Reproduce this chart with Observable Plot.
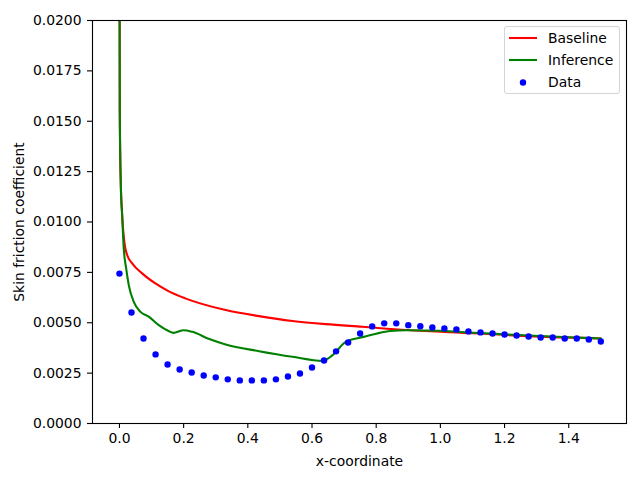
<!DOCTYPE html>
<html>
<head>
<meta charset="utf-8">
<script src="https://cdn.jsdelivr.net/npm/d3@7"></script>
<script src="https://cdn.jsdelivr.net/npm/@observablehq/plot@0.6"></script>
<style>
  html, body { margin: 0; padding: 0; background: #fff; }
  #wrap { position: relative; width: 640px; height: 480px; font-family: "DejaVu Sans", sans-serif; }
  #legend { position: absolute; left: 504px; top: 26px; width: 114px; height: 66px;
    border: 1px solid #d5d5d5; border-radius: 3px; background: rgba(255,255,255,0.8);
    font-size: 13.9px; color: #000; }
  .row { position: absolute; left: 0; height: 16px; display: flex; align-items: center; }
  .row svg { margin-left: 3px; }
  .row span { position: absolute; left: 43px; white-space: nowrap; line-height: 16px; }
</style>
</head>
<body>
<div id="wrap"></div>
<script>
// Baseline curve
const baseX = [0.000, 0.001, 0.004, 0.0084, 0.0165, 0.024, 0.0396, 0.0707, 0.112, 0.1525, 0.205, 0.331, 0.435, 0.539, 0.643, 0.757, 0.896, 1.104, 1.311, 1.500];
const baseY = [0.0250, 0.0155, 0.0120, 0.01035, 0.00886, 0.00836, 0.00795, 0.00745, 0.00695, 0.00657, 0.00621, 0.00563, 0.00533, 0.00509, 0.00493, 0.00480, 0.00464, 0.00448, 0.00431, 0.00422];

// Inference curve
const infX = [0.000, 0.001, 0.004, 0.0084, 0.0134, 0.0209, 0.029, 0.0446, 0.0654, 0.0913, 0.1225, 0.153, 0.168, 0.200, 0.227, 0.280, 0.331, 0.435, 0.539, 0.633, 0.664, 0.705, 0.730, 0.761, 0.803, 0.844, 0.896, 1.000, 1.104, 1.208, 1.312, 1.416, 1.500];
const infY = [0.0250, 0.0155, 0.0120, 0.01035, 0.00869, 0.0077, 0.00687, 0.00604, 0.00554, 0.0053, 0.00488, 0.00459, 0.0045, 0.00463, 0.00455, 0.00419, 0.00392, 0.00359, 0.00331, 0.00311, 0.00339, 0.00405, 0.00419, 0.0043, 0.00447, 0.00459, 0.00463, 0.0046, 0.0045, 0.00442, 0.00434, 0.00427, 0.00422];

// Measured data
const dataX = [0.0, 0.0375, 0.075, 0.1125, 0.15, 0.1875, 0.225, 0.2625, 0.3, 0.3375, 0.375, 0.4125, 0.45, 0.4875, 0.525, 0.5625, 0.6, 0.6375, 0.675, 0.7125, 0.75, 0.7875, 0.825, 0.8625, 0.9, 0.9375, 0.975, 1.0125, 1.05, 1.0875, 1.125, 1.1625, 1.2, 1.2375, 1.275, 1.3125, 1.35, 1.3875, 1.425, 1.4625, 1.5];
const dataY = [0.00744, 0.00551, 0.00422, 0.00343, 0.00293, 0.00268, 0.00253, 0.00238, 0.00229, 0.00219, 0.00214, 0.00214, 0.00214, 0.00219, 0.00233, 0.00248, 0.00278, 0.00313, 0.00358, 0.00402, 0.00447, 0.00482, 0.00497, 0.00497, 0.00488, 0.00483, 0.00477, 0.00472, 0.00467, 0.00457, 0.00452, 0.00447, 0.00442, 0.00437, 0.00432, 0.00427, 0.00427, 0.00422, 0.00422, 0.00417, 0.00407];

const xTicks = [0.0, 0.2, 0.4, 0.6, 0.8, 1.0, 1.2, 1.4];
const yTicks = [0.0, 0.0025, 0.005, 0.0075, 0.01, 0.0125, 0.015, 0.0175, 0.02];

const seriesNames = ["Baseline", "Inference", "Data"];
const seriesColors = ["#ff0000", "#008000", "#0000ff"];

const baseline = baseX.map((x, i) => ({x, y: baseY[i]}));
const inference = infX.map((x, i) => ({x, y: infY[i]}));
const data = dataX.map((x, i) => ({x, y: dataY[i]}));

const chart = Plot.plot({
  width: 640,
  height: 480,
  marginLeft: 92,
  marginRight: 14,
  marginTop: 20,
  marginBottom: 57,
  style: {fontFamily: "DejaVu Sans, sans-serif", fontSize: "13.9px", color: "#000", background: "#fff"},
  x: {domain: [-0.084, 1.58]},
  y: {domain: [0, 0.02]},
  marks: [
    Plot.line(baseline, {x: "x", y: "y", stroke: seriesColors[0], strokeWidth: 2.1, curve: "monotone-x", clip: true}),
    Plot.line(inference, {x: "x", y: "y", stroke: seriesColors[1], strokeWidth: 2.1, curve: "monotone-x", clip: true}),
    Plot.dot(data, {x: "x", y: "y", r: 3.2, fill: seriesColors[2], stroke: "none", clip: true}),
    Plot.axisX({ticks: xTicks, tickFormat: d3.format(".1f"), tickSize: 5, tickPadding: 5, strokeWidth: 1.1,
      label: "x-coordinate", labelAnchor: "center", labelArrow: "none", labelOffset: 42}),
    Plot.axisY({ticks: yTicks, tickFormat: d3.format(".4f"), tickSize: 5, tickPadding: 6, strokeWidth: 1.1,
      label: "Skin friction coefficient", labelAnchor: "center", labelArrow: "none", labelOffset: 78}),
    Plot.frame({stroke: "#000", strokeWidth: 1.1})
  ]
});

const wrap = document.getElementById("wrap");
wrap.appendChild(chart);

// Legend overlay
const legend = document.createElement("div");
legend.id = "legend";
const rowTops = [3, 25, 47];
seriesNames.forEach((name, i) => {
  const row = document.createElement("div");
  row.className = "row";
  row.style.top = rowTops[i] + "px";
  let sym;
  if (i < 2) {
    sym = `<svg width="30" height="16"><line x1="1" x2="29" y1="8" y2="8" stroke="${seriesColors[i]}" stroke-width="2.1"/></svg>`;
  } else {
    sym = `<svg width="30" height="16"><circle cx="15" cy="8.5" r="3.2" fill="${seriesColors[i]}"/></svg>`;
  }
  row.innerHTML = sym + `<span>${name}</span>`;
  legend.appendChild(row);
});
wrap.appendChild(legend);
</script>
</body>
</html>
